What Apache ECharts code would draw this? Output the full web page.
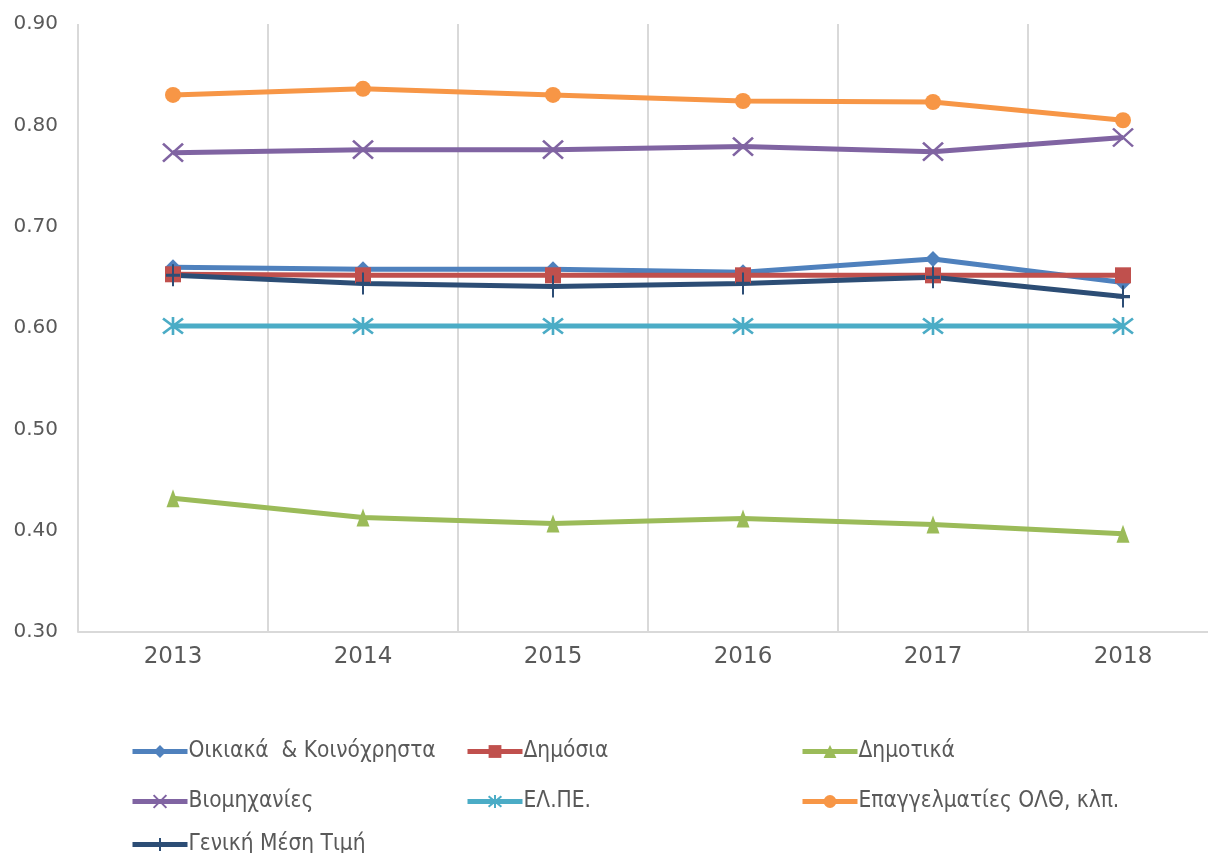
<!DOCTYPE html>
<html><head><meta charset="utf-8">
<script src="https://cdn.jsdelivr.net/npm/echarts@6/dist/echarts.min.js"></script>
<style>html,body{margin:0;padding:0;background:#fff;overflow:hidden;width:1208px;height:853px}#c{width:1218px;height:853px}</style>
</head><body><div id="c"></div>
<script>
const years = ['2013','2014','2015','2016','2017','2018'];
const names = ['Οικιακά  & Κοινόχρηστα','Δημόσια','Δημοτικά','Βιομηχανίες','ΕΛ.ΠΕ.','Επαγγελματίες ΟΛΘ, κλπ.','Γενική Μέση Τιμή'];
const oikiaka = [0.660,0.658,0.658,0.655,0.668,0.645];
const dimosia = [0.653,0.652,0.652,0.652,0.652,0.652];
const dimotika = [0.432,0.413,0.407,0.412,0.406,0.397];
const viomichanies = [0.773,0.776,0.776,0.779,0.774,0.788];
const elpe = [0.602,0.602,0.602,0.602,0.602,0.602];
const epaggelmaties = [0.830,0.836,0.830,0.824,0.823,0.805];
const geniki = [0.652,0.644,0.641,0.644,0.650,0.631];
const yTicks = {min:0.3,max:0.9,interval:0.1};

const colors = ['#4F81BD','#C0504D','#9BBB59','#8064A2','#4BACC6','#F79646','#2C4D75'];
const dataArr = [oikiaka,dimosia,dimotika,viomichanies,elpe,epaggelmaties,geniki];
const symbols = ['diamond','rect','triangle','path://M0,0L10,10M10,0L0,10','path://M0,0L10,10M10,0L0,10M5,-1L5,11','circle','path://M5,0L5,10M0,5L10,5'];
const sizes = [[16,16],[16,16],[13,18],[20,18],[20,18],[16,16],[14,22]];
const strokeW = [0,0,0,2.5,2.5,0,2.5];

const series = names.map((n,i)=>({
  name:n, type:'line', data:dataArr[i], symbol:symbols[i], symbolSize:sizes[i],
  showAllSymbol:true, animation:false,
  lineStyle:{color:colors[i],width:5},
  itemStyle:{color:colors[i],borderColor:colors[i],borderWidth:strokeW[i],opacity:1}
}));

const legendPos = [[125,735],[460,735],[795,735],[125,785],[460,785],[795,785],[125,828]];
const legends = names.map((n,i)=>({
  data:[n], left:legendPos[i][0], top:legendPos[i][1], itemWidth:55, itemHeight:16, itemGap:4,
  lineStyle:{width:5},
  textStyle:{fontFamily:'DejaVu Sans Condensed',fontSize:22.5,color:'#595959',padding:[0,0,0,-4]}
}));

const chart = echarts.init(document.getElementById('c'),null,{renderer:'canvas'});
chart.setOption({
  animation:false,
  color:colors,
  grid:{left:78,top:24,right:0,bottom:221,containLabel:false},
  legend:legends,
  xAxis:{type:'category',data:years,boundaryGap:true,
    axisLine:{lineStyle:{color:'#D9D9D9',width:2}},axisTick:{show:false},
    axisLabel:{fontFamily:'DejaVu Sans',fontSize:23,color:'#595959',margin:14},
    splitLine:{show:true,lineStyle:{color:'#D9D9D9',width:2}}},
  yAxis:{type:'value',min:yTicks.min,max:yTicks.max,interval:yTicks.interval,
    axisLine:{show:false},axisTick:{show:false},splitLine:{show:false},
    axisLabel:{fontFamily:'DejaVu Sans',fontSize:20,color:'#595959',margin:20,formatter:v=>v.toFixed(2)}},
  series:series
});
</script></body></html>
